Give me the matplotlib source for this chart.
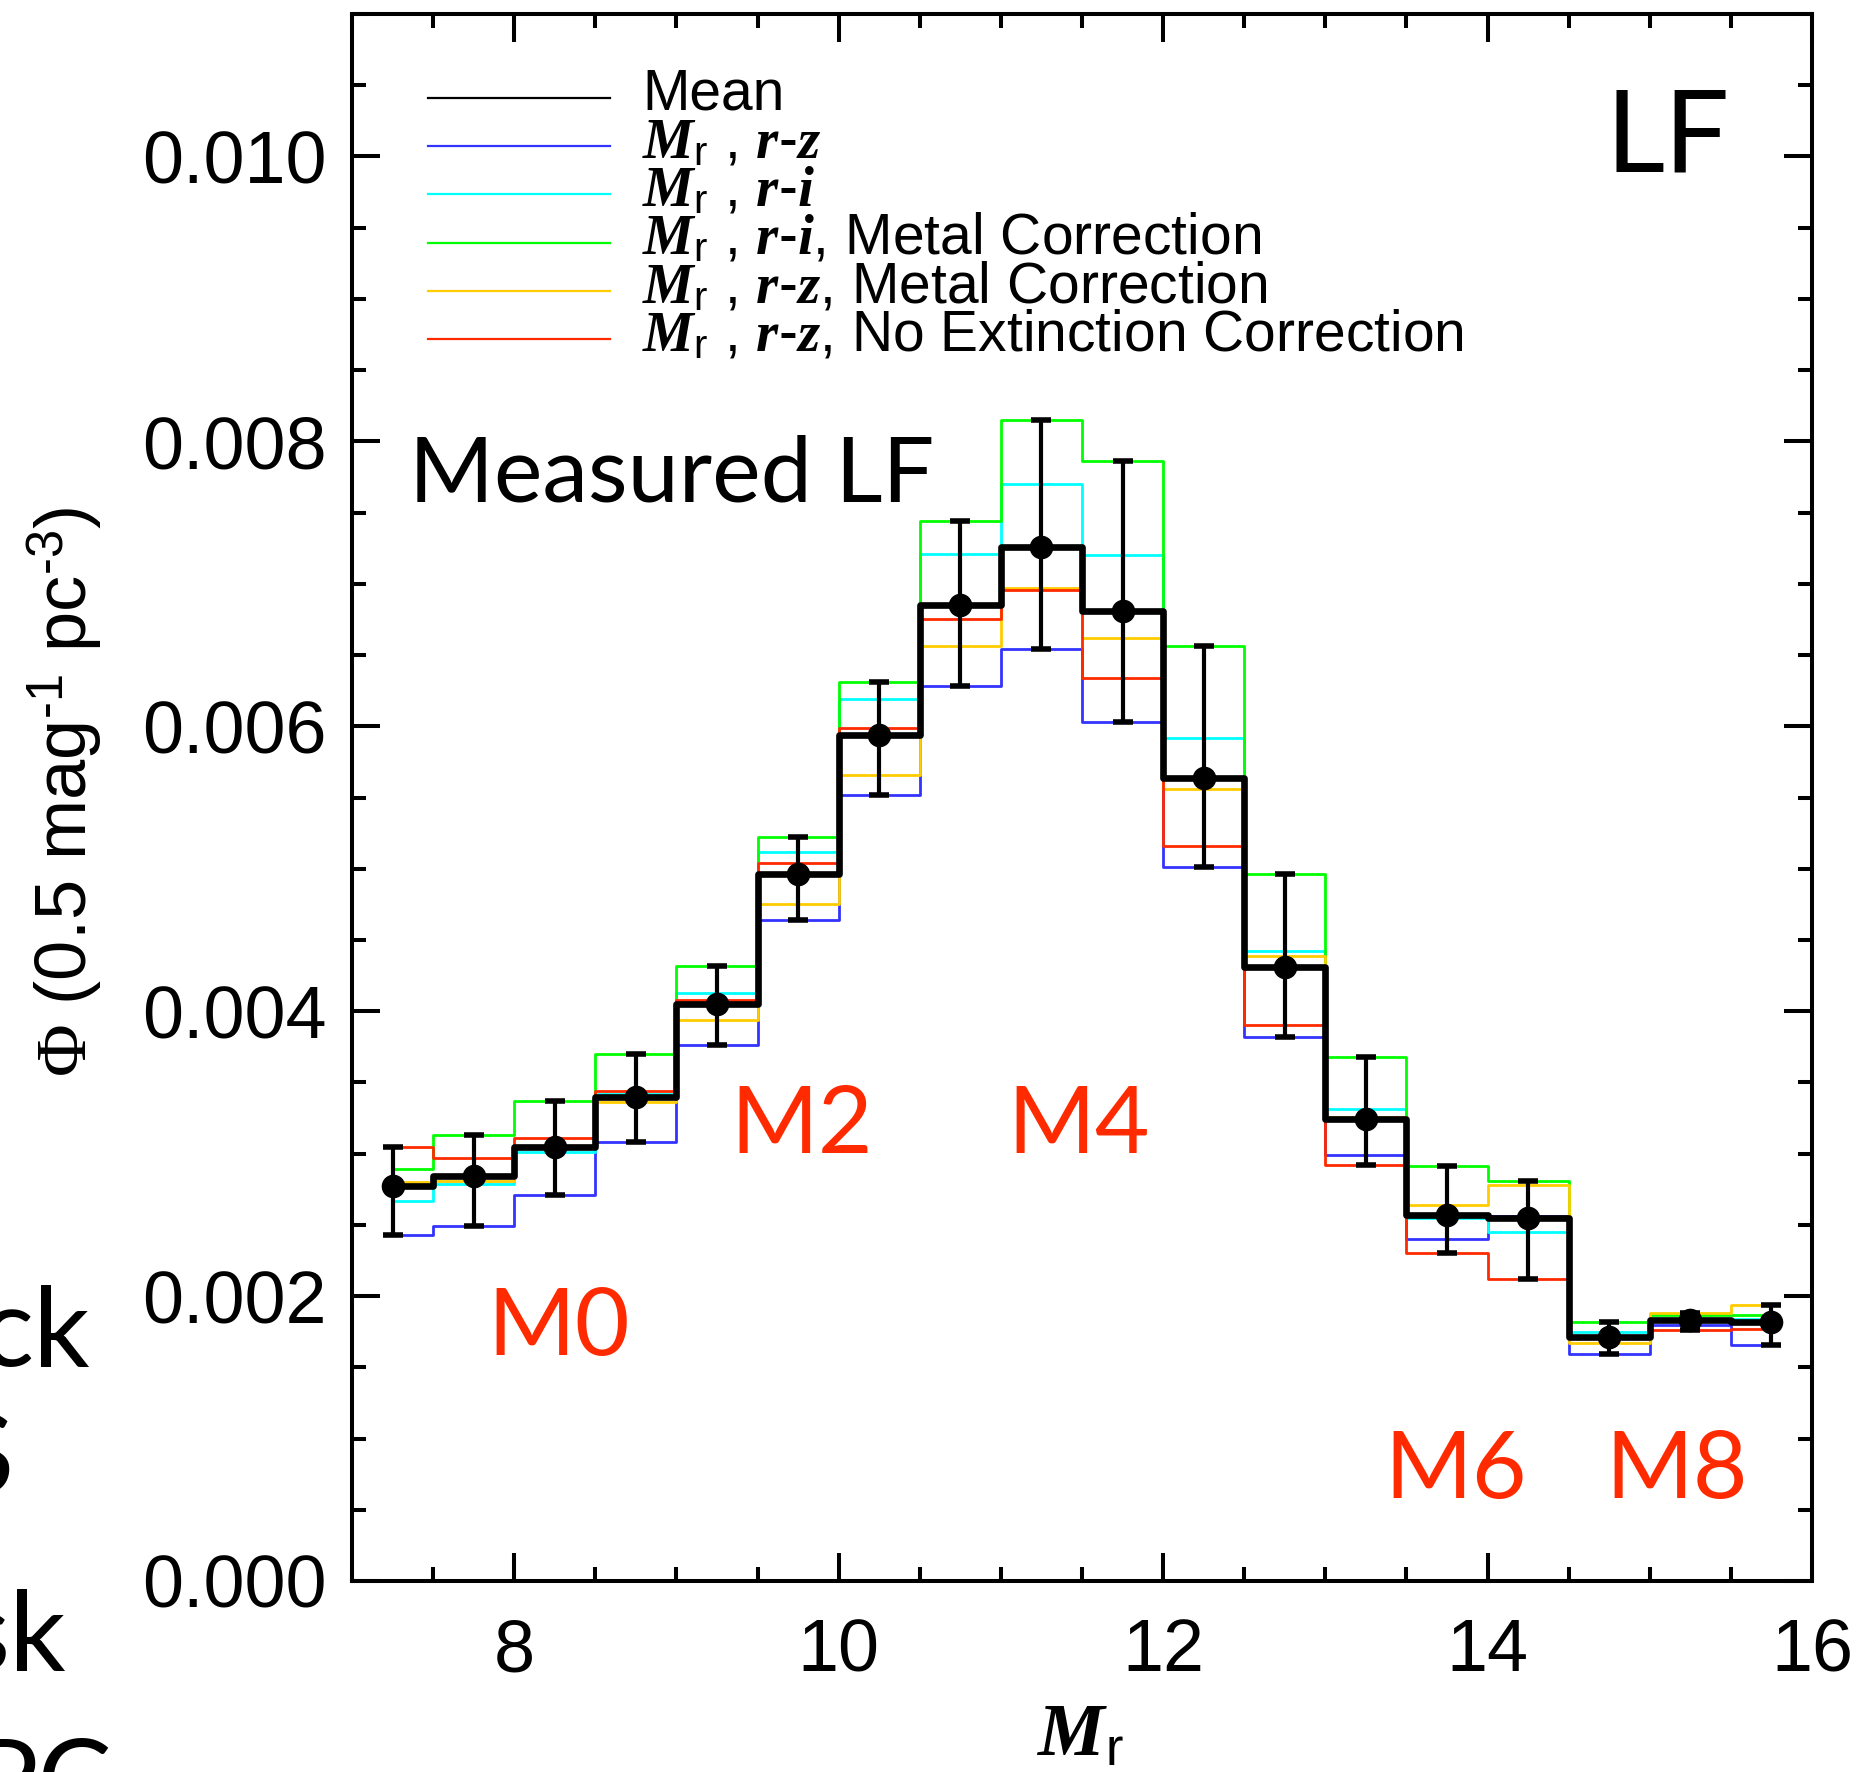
import numpy as np
import matplotlib
matplotlib.use('Agg')
from matplotlib import pyplot as plt
from matplotlib.ticker import MultipleLocator, FormatStrFormatter

plt.rcParams['font.family'] = 'Liberation Sans'
plt.rcParams['mathtext.fontset'] = 'custom'
plt.rcParams['mathtext.rm'] = 'Liberation Serif'
plt.rcParams['mathtext.sf'] = 'Liberation Sans'
plt.rcParams['mathtext.bf'] = 'Liberation Serif:bold:italic'
plt.rcParams['mathtext.it'] = 'Liberation Serif:bold:italic'

# bin centres in M_r (0.5 mag bins)
mr = [7.25, 7.75, 8.25, 8.75, 9.25, 9.75, 10.25, 10.75, 11.25,
      11.75, 12.25, 12.75, 13.25, 13.75, 14.25, 14.75, 15.25, 15.75]

# luminosity functions, in units of 1e-3 (0.5 mag)^-1 pc^-3
phi_rz = [2.43, 2.49, 2.71, 3.08, 3.76, 4.64, 5.52, 6.28, 6.54,
          6.03, 5.01, 3.82, 2.99, 2.40, 2.56, 1.59, 1.80, 1.66]
phi_ri = [2.67, 2.79, 3.01, 3.42, 4.13, 5.12, 6.19, 7.21, 7.70,
          7.20, 5.92, 4.42, 3.31, 2.55, 2.45, 1.75, 1.83, 1.84]
phi_ri_metal = [2.89, 3.13, 3.37, 3.70, 4.32, 5.22, 6.31, 7.44, 8.15,
                7.86, 6.56, 4.96, 3.68, 2.91, 2.81, 1.82, 1.87, 1.87]
phi_rz_metal = [2.80, 2.81, 3.05, 3.36, 3.94, 4.75, 5.66, 6.56, 6.97,
                6.62, 5.56, 4.39, 3.26, 2.64, 2.78, 1.67, 1.88, 1.94]
phi_rz_noext = [3.05, 2.97, 3.11, 3.44, 4.08, 5.04, 5.99, 6.75, 6.96,
                6.34, 5.16, 3.90, 2.92, 2.30, 2.12, 1.72, 1.76, 1.77]
phi_mean = [2.77, 2.84, 3.05, 3.40, 4.05, 4.96, 5.94, 6.85, 7.26,
            6.81, 5.64, 4.31, 3.24, 2.57, 2.55, 1.71, 1.83, 1.82]
err_lo = [2.43, 2.49, 2.71, 3.08, 3.76, 4.64, 5.52, 6.28, 6.54,
          6.03, 5.01, 3.82, 2.92, 2.30, 2.12, 1.59, 1.76, 1.66]
err_hi = [3.05, 3.13, 3.37, 3.70, 4.32, 5.22, 6.31, 7.44, 8.15,
          7.86, 6.56, 4.96, 3.68, 2.91, 2.81, 1.82, 1.88, 1.94]

series = [
    (phi_rz, '#3333ff', r'$\mathbf{M}_{\mathsf{r}}$ , $\mathbf{r}$-$\mathbf{z}$'),
    (phi_ri, '#00ffff', r'$\mathbf{M}_{\mathsf{r}}$ , $\mathbf{r}$-$\mathbf{i}$'),
    (phi_ri_metal, '#00ff00', r'$\mathbf{M}_{\mathsf{r}}$ , $\mathbf{r}$-$\mathbf{i}$, Metal Correction'),
    (phi_rz_metal, '#ffcc00', r'$\mathbf{M}_{\mathsf{r}}$ , $\mathbf{r}$-$\mathbf{z}$, Metal Correction'),
    (phi_rz_noext, '#ff2a00', r'$\mathbf{M}_{\mathsf{r}}$ , $\mathbf{r}$-$\mathbf{z}$, No Extinction Correction'),
]

spt_labels = ['M0', 'M2', 'M4', 'M6', 'M8']
spt_pos = [(0.0930, 0.1442), (0.2594, 0.2731), (0.4492, 0.2731),
           (0.7074, 0.0530), (0.8587, 0.0530)]

# bits of slide text cut off at the left edge
side_text = [('ck', 90, 1366), ('S', 14, 1493), ('sk', 66, 1670), ('PC', 113, 1818)]

W, H = 1864, 1772
fig = plt.figure(figsize=(W / 100, H / 100), dpi=100)
ax = fig.add_axes([352 / W, 1 - 1581 / H, 1460 / W, 1567 / H])

x = np.array(mr)
for vals, col, lab in series:
    ax.step(x, np.array(vals) * 1e-3, where='mid', color=col, lw=2.0)

m = np.array(phi_mean) * 1e-3
ax.step(x, m, where='mid', color='k', lw=4.8)
yerr = [m - np.array(err_lo) * 1e-3, np.array(err_hi) * 1e-3 - m]
ax.errorbar(x, m, yerr=yerr, fmt='o', color='k', ms=16, elinewidth=3,
            capsize=7.5, capthick=4)

ax.set_xlim(7, 16)
ax.set_ylim(0, 0.011)
ax.xaxis.set_major_locator(MultipleLocator(2))
ax.xaxis.set_minor_locator(MultipleLocator(0.5))
ax.yaxis.set_major_locator(MultipleLocator(0.002))
ax.yaxis.set_minor_locator(MultipleLocator(0.0005))
ax.yaxis.set_major_formatter(FormatStrFormatter('%.3f'))
ax.tick_params(which='both', direction='in', top=True, right=True, width=2.9)
ax.tick_params(which='major', length=20, labelsize=53)
ax.tick_params(axis='y', which='major', pad=18)
ax.tick_params(axis='x', which='major', pad=26)
ax.tick_params(which='minor', length=10)
for sp in ax.spines.values():
    sp.set_linewidth(2.9)

# legend drawn by hand so the rows can overlap like the original
rows = [('k', 'Mean')] + [(c, l) for _, c, l in series]
for i, (col, lab) in enumerate(rows):
    yl = (1581 - (97.7 + 48.3 * i)) / 1567
    ax.plot([0.052, 0.1767], [yl, yl], color=col, lw=1.6, transform=ax.transAxes)
    ax.text(0.1986, yl - 12 / 1567, lab, transform=ax.transAxes, fontsize=41,
            va='baseline', ha='left')

ax.text(0.9438, 0.8992, 'LF', transform=ax.transAxes, family='Lato',
        fontsize=83, ha='right', va='baseline')
ax.text(0.0390, 0.6886, 'Measured LF', transform=ax.transAxes, family='Lato',
        fontsize=66, ha='left', va='baseline')
for lab, (px, py) in zip(spt_labels, spt_pos):
    ax.text(px, py, lab, transform=ax.transAxes, family='Lato', fontsize=68,
            color='#ff2a00', ha='left', va='baseline')

hy = '\u2010'
fig.text(65 / W, 1 - 792 / H,
         r'$\Phi$ (0.5 mag$^{\mathsf{' + hy + r'1}}$ pc$^{\mathsf{' + hy + r'3}}$)',
         rotation=90, fontsize=52, ha='center', va='center')
fig.text(1080 / W, 1 - 1756 / H, r'$\mathbf{M}_{\mathsf{r}}$', fontsize=54,
         ha='center', va='baseline')

for s, xr, yb in side_text:
    fig.text(xr / W, 1 - yb / H, s, family='Lato', fontsize=80,
             ha='right', va='baseline')

fig.savefig('out.png', dpi=100)
